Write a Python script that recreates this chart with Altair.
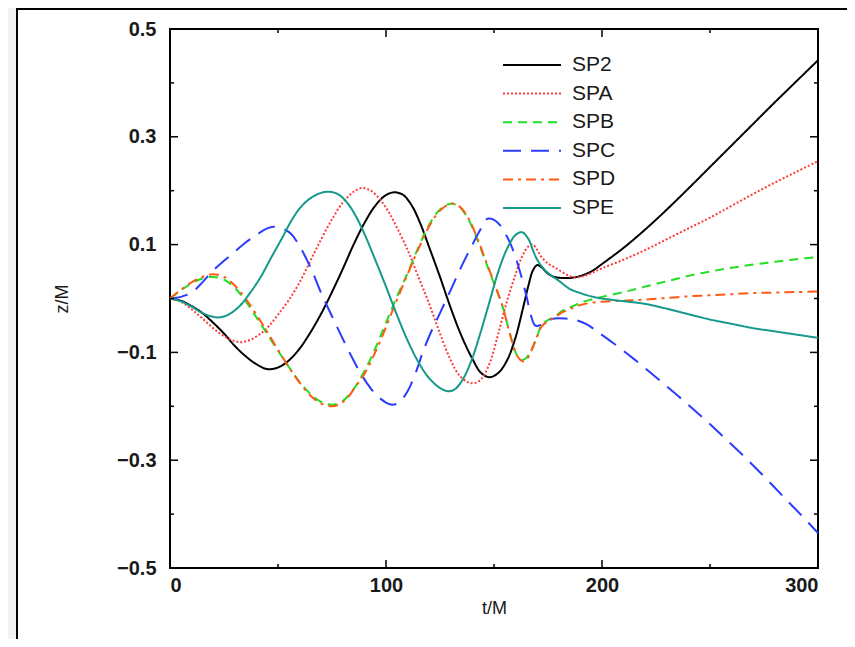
import altair as alt
import pandas as pd

SERIES = ["SP2", "SPA", "SPB", "SPC", "SPD", "SPE"]
COLORS = ["#000000", "#ff3b3b", "#22dd22", "#2b3cff", "#ff5a14", "#14998a"]
DASHES = [[1, 0], [2, 2], [9, 6], [18, 10], [10, 5, 3, 5], [1, 0]]
WIDTHS = [2, 2, 2.5, 2.5, 2.2, 3]

T_SP2 = [0, 5, 10, 15, 20, 25, 30, 35, 40, 45, 50, 55, 60, 65, 70, 75, 80, 85, 90, 95, 100, 104, 108, 112, 116, 120, 125, 130, 135, 140, 144, 148, 152, 156, 160, 163, 166, 168, 170, 172, 175, 178, 185, 190, 195, 200, 210, 220, 230, 240, 250, 260, 270, 280, 290, 300]
Z_SP2 = [0, -0.004, -0.014, -0.027, -0.045, -0.065, -0.088, -0.107, -0.122, -0.131, -0.128, -0.115, -0.093, -0.063, -0.028, 0.012, 0.055, 0.1, 0.14, 0.172, 0.192, 0.197, 0.192, 0.172, 0.138, 0.095, 0.04, -0.018, -0.07, -0.112, -0.138, -0.146, -0.138, -0.115, -0.072, -0.025, 0.025, 0.052, 0.062, 0.058, 0.046, 0.04, 0.038, 0.042, 0.05, 0.064, 0.094, 0.128, 0.165, 0.204, 0.244, 0.284, 0.324, 0.364, 0.403, 0.442]

T_SPA = [0, 5, 10, 15, 20, 25, 30, 33, 37, 42, 46, 50, 55, 60, 65, 70, 75, 80, 85, 89, 93, 97, 101, 105, 110, 115, 120, 125, 130, 134, 138, 141, 144, 148, 152, 156, 160, 163, 166, 168, 170, 172, 175, 178, 182, 186, 190, 195, 200, 210, 220, 230, 240, 250, 260, 270, 280, 290, 300]
Z_SPA = [0, -0.006, -0.02, -0.037, -0.055, -0.07, -0.079, -0.081, -0.077, -0.065, -0.05, -0.03, -0.003, 0.03, 0.07, 0.11, 0.147, 0.178, 0.198, 0.205, 0.2, 0.185, 0.162, 0.132, 0.09, 0.04, -0.01, -0.065, -0.115, -0.143, -0.155, -0.157, -0.15, -0.12, -0.065, -0.005, 0.045, 0.078, 0.097, 0.1, 0.09, 0.077, 0.065, 0.058, 0.048, 0.04, 0.04, 0.047, 0.056, 0.072, 0.09, 0.11, 0.13, 0.15, 0.172, 0.194, 0.215, 0.235, 0.255]

T_SPB = [0, 5, 10, 15, 20, 25, 30, 35, 40, 45, 50, 55, 60, 65, 70, 75, 80, 85, 90, 95, 100, 105, 110, 115, 120, 125, 130, 134, 138, 142, 146, 150, 154, 157, 160, 162, 164, 166, 168, 170, 172, 175, 178, 182, 186, 190, 195, 200, 210, 220, 230, 240, 250, 260, 270, 280, 290, 300]
Z_SPB = [0, 0.015, 0.028, 0.037, 0.04, 0.035, 0.02, -0.005, -0.035, -0.066, -0.097, -0.127, -0.155, -0.177, -0.192, -0.197, -0.19, -0.168, -0.135, -0.093, -0.045, 0.003, 0.047, 0.095, 0.137, 0.165, 0.176, 0.17, 0.148, 0.112, 0.07, 0.028, -0.015, -0.06, -0.1, -0.112, -0.113, -0.105, -0.09, -0.07, -0.05, -0.04, -0.034, -0.022, -0.015, -0.008, -0.002, 0.003, 0.012, 0.022, 0.032, 0.042, 0.05, 0.057, 0.063, 0.068, 0.073, 0.077]

T_SPC = [0, 5, 10, 15, 20, 25, 30, 35, 40, 45, 48, 52, 56, 60, 65, 70, 75, 80, 85, 88, 91, 95, 100, 103, 106, 110, 114, 117, 120, 125, 130, 135, 140, 144, 147, 150, 153, 156, 159, 162, 165, 167, 169, 171, 174, 178, 183, 188, 193, 198, 205, 215, 225, 235, 245, 255, 265, 275, 285, 293, 300]
Z_SPC = [0, 0.003, 0.011, 0.03, 0.052, 0.07, 0.087, 0.104, 0.118, 0.13, 0.133, 0.13, 0.12, 0.097, 0.058, 0.01, -0.033, -0.075, -0.115, -0.137, -0.156, -0.177, -0.193, -0.197, -0.193, -0.172, -0.135, -0.1, -0.07, -0.027, 0.016, 0.06, 0.1, 0.13, 0.148, 0.146, 0.135, 0.115, 0.088, 0.05, 0.005, -0.03, -0.05, -0.05, -0.042, -0.037, -0.037, -0.04, -0.048, -0.062, -0.082, -0.113, -0.146, -0.18, -0.215, -0.252, -0.29, -0.33, -0.372, -0.405, -0.435]

T_SPD = [0, 5, 10, 15, 20, 25, 30, 35, 40, 45, 50, 55, 60, 65, 70, 75, 78, 82, 86, 90, 95, 100, 105, 110, 115, 120, 125, 130, 134, 138, 142, 146, 150, 154, 157, 160, 162, 164, 166, 168, 170, 172, 175, 178, 182, 186, 190, 195, 200, 210, 220, 230, 240, 250, 260, 270, 280, 290, 300]
Z_SPD = [0, 0.016, 0.03, 0.04, 0.045, 0.04, 0.024, 0.0, -0.03, -0.062, -0.095, -0.127, -0.156, -0.18, -0.195, -0.2, -0.197, -0.185, -0.163, -0.14, -0.1, -0.053, -0.003, 0.045, 0.092, 0.134, 0.163, 0.176, 0.171, 0.15, 0.115, 0.072, 0.03, -0.015, -0.06, -0.1, -0.113, -0.117, -0.108, -0.09, -0.07, -0.052, -0.042, -0.035, -0.025, -0.018, -0.012, -0.008, -0.006, -0.004, -0.002, 0.001, 0.004, 0.006, 0.008, 0.01, 0.011, 0.012, 0.013]

T_SPE = [0, 5, 10, 15, 20, 23, 27, 32, 37, 42, 47, 52, 56, 60, 65, 70, 74, 78, 82, 86, 90, 95, 100, 105, 110, 115, 120, 125, 129, 132, 136, 140, 144, 148, 152, 156, 160, 163, 166, 168, 170, 173, 176, 180, 185, 190, 195, 200, 210, 220, 230, 240, 250, 260, 270, 280, 290, 300]
Z_SPE = [0, -0.005, -0.015, -0.027, -0.034, -0.035, -0.03, -0.015, 0.01, 0.04, 0.077, 0.113, 0.143, 0.167, 0.186, 0.196, 0.198, 0.193, 0.178, 0.153, 0.12, 0.072, 0.022, -0.03, -0.078, -0.118, -0.148, -0.166, -0.172, -0.168, -0.147, -0.11, -0.06, -0.005, 0.05, 0.092, 0.118, 0.123, 0.11, 0.09, 0.072, 0.055, 0.044, 0.033, 0.018, 0.01, 0.004, 0.0, -0.005, -0.01, -0.019, -0.029, -0.039, -0.047, -0.055, -0.061, -0.067, -0.073]

X_MAJOR = [0, 100, 200, 300]
X_MINOR = [50, 150, 250]
Y_MAJOR = [-0.5, -0.3, -0.1, 0.1, 0.3, 0.5]
Y_MINOR = [-0.4, -0.2, 0.0, 0.2, 0.4]

DATA = {
    "SP2": (T_SP2, Z_SP2), "SPA": (T_SPA, Z_SPA), "SPB": (T_SPB, Z_SPB),
    "SPC": (T_SPC, Z_SPC), "SPD": (T_SPD, Z_SPD), "SPE": (T_SPE, Z_SPE),
}
rows = []
for name in SERIES:
    ts, zs = DATA[name]
    for t, z in zip(ts, zs):
        rows.append({"series": name, "t": t, "z": z})
df = pd.DataFrame(rows)

W, H = 648, 539
FONT = "Liberation Sans"
TXT = "#1a1a1a"
xs = alt.Scale(domain=[0, 300], nice=False, zero=False)
ys = alt.Scale(domain=[-0.5, 0.5], nice=False, zero=False)

x_axis = alt.Axis(
    values=X_MAJOR, title="t/M", ticks=False, tickSize=0, domain=False, grid=False,
    labelFont=FONT, labelFontSize=20, labelFontWeight="bold", labelColor=TXT, labelPadding=7,
    titleFont=FONT, titleFontSize=18, titleFontWeight="normal", titleColor=TXT,
    titleY=40, titleBaseline="middle")
y_axis = alt.Axis(
    values=Y_MAJOR, format=".1f", title="z/M", ticks=False, tickSize=0, domain=False, grid=False,
    labelFont=FONT, labelFontSize=20, labelFontWeight="bold", labelColor=TXT, labelPadding=14,
    titleFont=FONT, titleFontSize=18, titleFontWeight="normal", titleColor=TXT,
    titleX=-108, titleY=H / 2, titleBaseline="middle", titleAngle=-90)

leg = alt.Legend(
    title=None, orient="none", legendX=332, legendY=26,
    symbolType="stroke", symbolSize=3364, clipHeight=20, rowPadding=7.6,
    labelOffset=10, labelFontSize=21, labelFont=FONT, labelColor=TXT,
    padding=0,
)

lines = alt.Chart(df).mark_line(interpolate="catmull-rom", strokeCap="butt").encode(
    x=alt.X("t:Q", scale=xs, axis=x_axis),
    y=alt.Y("z:Q", scale=ys, axis=y_axis),
    color=alt.Color("series:N", sort=SERIES, scale=alt.Scale(domain=SERIES, range=COLORS), legend=leg),
    strokeDash=alt.StrokeDash("series:N", sort=SERIES, scale=alt.Scale(domain=SERIES, range=DASHES), legend=leg),
    strokeWidth=alt.StrokeWidth("series:N", sort=SERIES, scale=alt.Scale(domain=SERIES, range=WIDTHS), legend=leg),
)

def ytick_layer(vals, length):
    d = pd.DataFrame({"z": vals})
    left = alt.Chart(d).mark_rule(color="black", strokeWidth=1.5).encode(
        y=alt.Y("z:Q", scale=ys, axis=y_axis), x=alt.value(0), x2=alt.value(length))
    right = alt.Chart(d).mark_rule(color="black", strokeWidth=1.5).encode(
        y=alt.Y("z:Q", scale=ys, axis=y_axis), x=alt.value(W - length), x2=alt.value(W))
    return [left, right]

def xtick_layer(vals, length):
    d = pd.DataFrame({"t": vals})
    bottom = alt.Chart(d).mark_rule(color="black", strokeWidth=1.5).encode(
        x=alt.X("t:Q", scale=xs, axis=x_axis), y=alt.value(H - length), y2=alt.value(H))
    top = alt.Chart(d).mark_rule(color="black", strokeWidth=1.5).encode(
        x=alt.X("t:Q", scale=xs, axis=x_axis), y=alt.value(0), y2=alt.value(length))
    return [bottom, top]

frame_df = pd.DataFrame({"k": [0]})
strip = alt.Chart(frame_df).mark_rect(color="#f2f2f2").encode(
    x=alt.value(-162), x2=alt.value(-154), y=alt.value(-21), y2=alt.value(H + 71))
vline = alt.Chart(frame_df).mark_rule(color="black", strokeWidth=2).encode(
    x=alt.value(-153), y=alt.value(-21), y2=alt.value(H + 71))
hline = alt.Chart(frame_df).mark_rule(color="black", strokeWidth=2).encode(
    x=alt.value(-154), x2=alt.value(W + 29), y=alt.value(-20))

layers = [lines] + ytick_layer(Y_MAJOR, 8) + ytick_layer(Y_MINOR, 4) + xtick_layer(X_MAJOR, 8) + xtick_layer(X_MINOR, 4) + [strip, vline, hline]

chart = alt.layer(*layers).properties(
    width=W, height=H,
    autosize=alt.AutoSizeParams(type="none"),
    padding={"left": 162, "top": 21, "right": 29, "bottom": 71},
    background="white",
).configure_view(stroke="black", strokeWidth=2)

chart.save("out.html", embed_options={"renderer": "svg", "actions": False})
